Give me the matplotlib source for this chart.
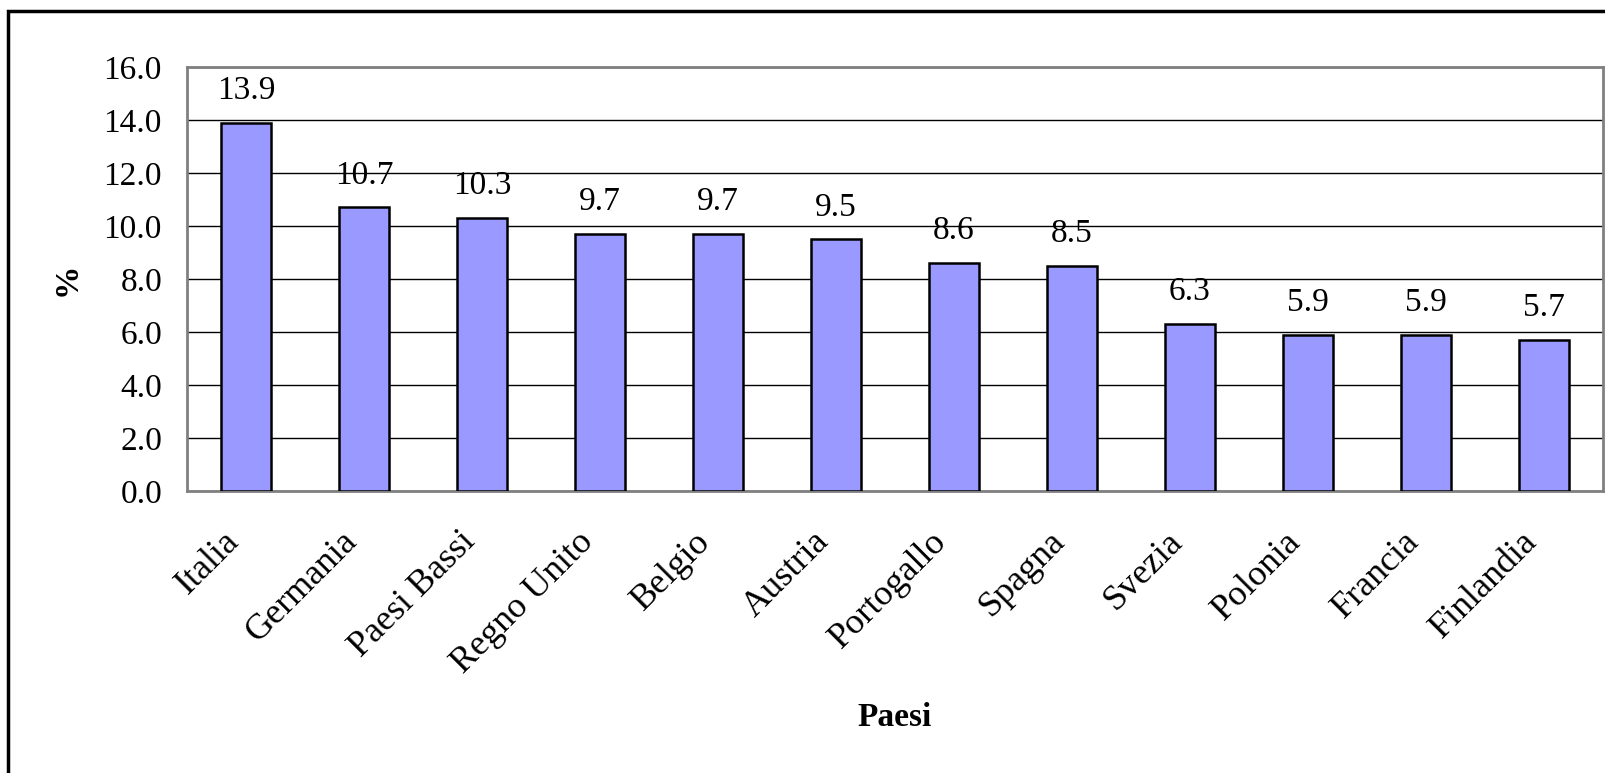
import matplotlib.pyplot as plt
from matplotlib.patches import Rectangle
from matplotlib.transforms import ScaledTranslation

paesi = ["Italia", "Germania", "Paesi Bassi", "Regno Unito", "Belgio", "Austria",
         "Portogallo", "Spagna", "Svezia", "Polonia", "Francia", "Finlandia"]
valori = [13.9, 10.7, 10.3, 9.7, 9.7, 9.5, 8.6, 8.5, 6.3, 5.9, 5.9, 5.7]
y_ticks = [0, 2, 4, 6, 8, 10, 12, 14, 16]

plt.rcParams["font.family"] = ["Liberation Serif", "DejaVu Serif"]
FS = 24

W, H = 1605, 773
fig = plt.figure(figsize=(W / 100, H / 100), dpi=100)
ax = fig.add_axes([187 / W, 1 - 491 / H, (1603 - 187) / W, (491 - 67) / H])

x = list(range(len(paesi)))
bars = ax.bar(x, valori, width=0.42, color="#9999ff", edgecolor="black", linewidth=1.8, zorder=3)

for b, v in zip(bars, valori):
    ax.annotate(f"{v:.1f}", (b.get_x() + b.get_width() / 2, v),
                xytext=(0, 17), textcoords="offset points",
                ha="center", va="baseline", fontsize=FS)

ax.set_xlim(-0.5, len(paesi) - 0.5)
ax.set_ylim(0, 16)
ax.set_yticks(y_ticks)
ax.set_yticklabels([f"{t:.1f}" for t in y_ticks], fontsize=FS)
ax.set_xticks(x)
ax.set_xticklabels(paesi, rotation=45, ha="right", va="center", rotation_mode="anchor", fontsize=26)
ax.tick_params(axis="both", length=0)
ax.tick_params(axis="y", pad=18)
ax.tick_params(axis="x", pad=33)
shift = ScaledTranslation(-12 / 100, 0, fig.dpi_scale_trans)
for lbl in ax.get_xticklabels():
    lbl.set_transform(lbl.get_transform() + shift)

ax.grid(axis="y", color="black", linewidth=1.0, zorder=0)
for s in ax.spines.values():
    s.set_color("#808080")
    s.set_linewidth(2)

ax.set_xlabel("Paesi", fontsize=FS, fontweight="bold", labelpad=10)
ax.xaxis.set_label_coords(0.5, -(718 - 491) / (491 - 67))
ax.xaxis.label.set_va("center")
ax.set_ylabel("%", fontsize=FS, fontweight="bold")
ax.yaxis.set_label_coords(-(187 - 67) / (1603 - 187), 0.5)
ax.yaxis.label.set_va("center")

# outer chart frame
fig.patches.append(Rectangle((8 / W, -0.1), 1.2, 1 - 11 / H + 0.1, transform=fig.transFigure,
                             fill=False, edgecolor="black", linewidth=2.5))

fig.savefig("out.png", dpi=100)
